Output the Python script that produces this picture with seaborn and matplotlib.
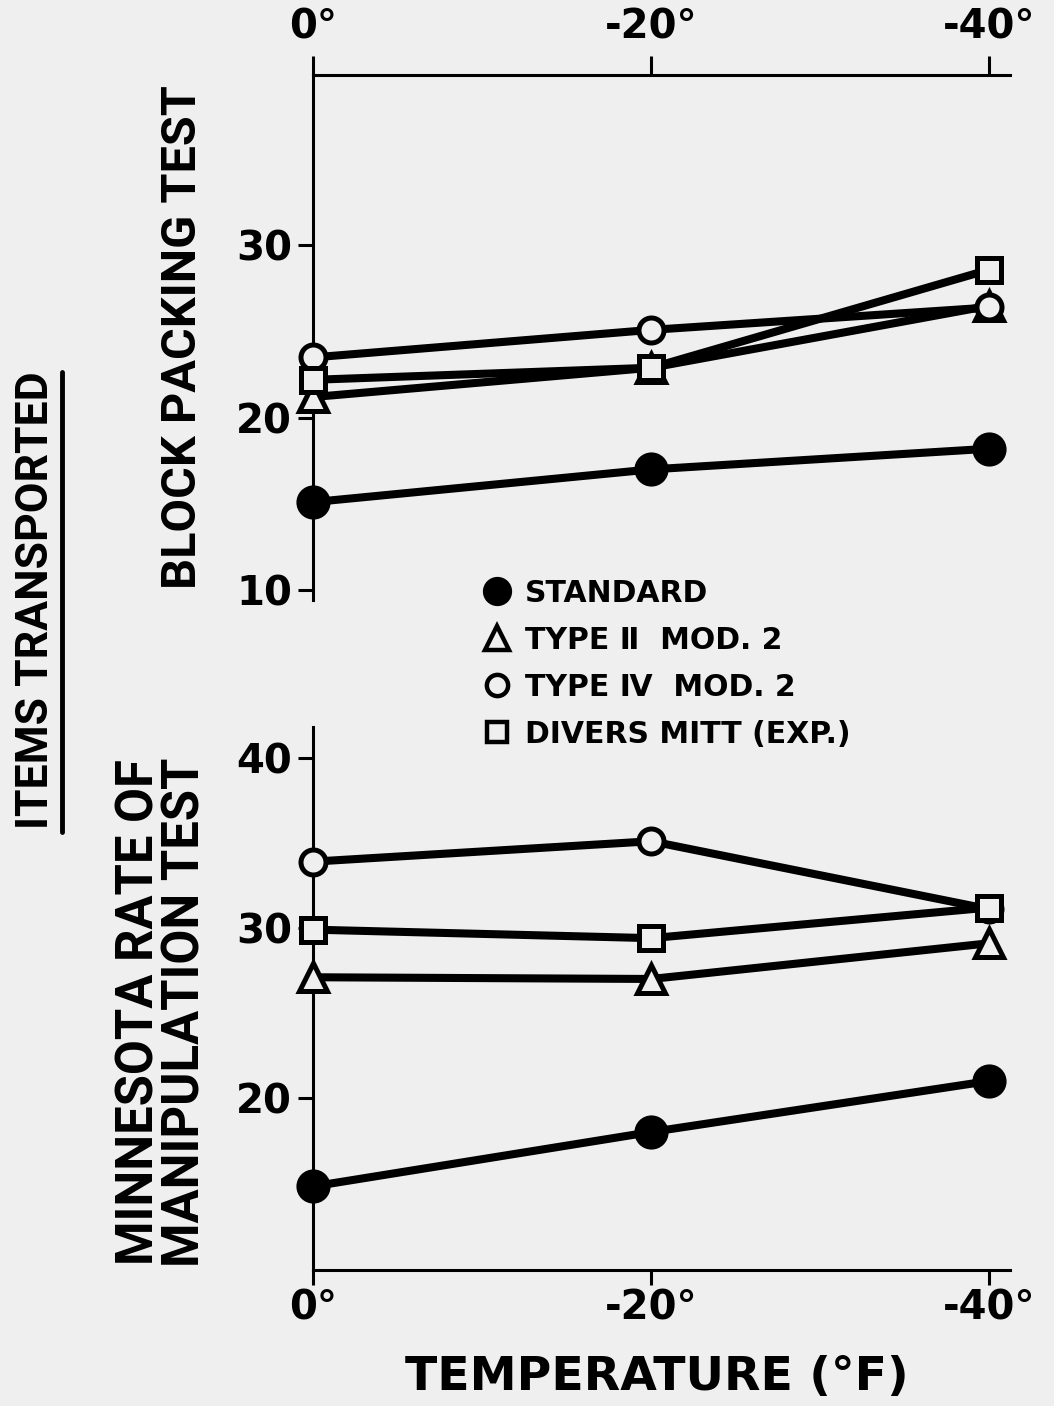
import numpy as np
import pandas as pd
import seaborn as sns
import matplotlib.pyplot as plt
from matplotlib.lines import Line2D

# data
temps = [0, -20, -40]
tick_labels = ["0°", "-20°", "-40°"]
series = ["STANDARD", "TYPE Ⅱ  MOD. 2", "TYPE Ⅳ  MOD. 2", "DIVERS MITT (EXP.)"]

# block packing test (items transported)
block_standard = [15.1, 17.0, 18.2]
block_type2 = [21.2, 22.9, 26.5]
block_type4 = [23.5, 25.1, 26.4]
block_divers = [22.2, 22.9, 28.6]

# minnesota rate of manipulation test
minn_standard = [14.8, 18.0, 21.0]
minn_type2 = [27.1, 27.0, 29.1]
minn_type4 = [33.9, 35.1, 31.1]
minn_divers = [29.9, 29.4, 31.2]

bg = "#efefef"
sns.set_theme(style="white")
plt.rcParams["font.family"] = ["DejaVu Sans"]
plt.rcParams["font.weight"] = "bold"
plt.rcParams["text.color"] = "black"
plt.rcParams["xtick.color"] = "black"
plt.rcParams["ytick.color"] = "black"

fig = plt.figure(figsize=(10.54, 14.06), dpi=100, facecolor=bg)
ax_top = fig.add_axes([0.297, 0.5733, 0.661, 0.3734], facecolor=bg)
ax_bot = fig.add_axes([0.297, 0.0967, 0.661, 0.386], facecolor=bg)

marker_styles = {
    "STANDARD": dict(marker="o", markersize=21, markerfacecolor="black"),
    "TYPE Ⅱ  MOD. 2": dict(marker="^", markersize=20, markerfacecolor=bg),
    "TYPE Ⅳ  MOD. 2": dict(marker="o", markersize=18, markerfacecolor=bg),
    "DIVERS MITT (EXP.)": dict(marker="s", markersize=17, markerfacecolor=bg),
}

block_vals = [block_standard, block_type2, block_type4, block_divers]
minn_vals = [minn_standard, minn_type2, minn_type4, minn_divers]

for ax, vals in [(ax_top, block_vals), (ax_bot, minn_vals)]:
    for name, v in zip(series, vals):
        df = pd.DataFrame({"temp": temps, "items": v})
        sns.lineplot(data=df, x="temp", y="items", ax=ax, color="black",
                     linewidth=5.8, markeredgecolor="black", markeredgewidth=3.6,
                     clip_on=False, zorder=3, **marker_styles[name])
    ax.set_xlim(0, -41.2)
    ax.set_xlabel("")
    ax.set_ylabel("")
    for s in ax.spines.values():
        s.set_linewidth(2.2)
        s.set_color("black")
    ax.set_xticks(temps)
    ax.set_xticklabels(tick_labels)
    ax.tick_params(axis="both", direction="out", length=11, width=2.2,
                   color="black", labelcolor="black", labelsize=29, pad=4,
                   left=True)

# top panel
ax_top.set_ylim(9.42, 39.9)
ax_top.set_yticks([10, 20, 30])
ax_top.spines["right"].set_visible(False)
ax_top.spines["bottom"].set_visible(False)
ax_top.xaxis.tick_top()
ax_top.tick_params(axis="x", pad=6, top=True, bottom=False, length=14)

# bottom panel
ax_bot.set_ylim(9.88, 41.8)
ax_bot.set_yticks([20, 30, 40])
ax_bot.spines["right"].set_visible(False)
ax_bot.spines["top"].set_visible(False)
ax_bot.tick_params(axis="x", pad=2, bottom=True)

lab_font = ["Roboto", "DejaVu Sans"]
fig.text(183 / 1054, 1 - 337 / 1406, "BLOCK PACKING TEST", rotation=90,
         ha="center", va="center", fontsize=35, fontweight="bold", family=lab_font)
fig.text(140 / 1054, 1 - 1012 / 1406, "MINNESOTA RATE OF", rotation=90,
         ha="center", va="center", fontsize=36.5, fontweight="bold", family=lab_font)
fig.text(186 / 1054, 1 - 1012 / 1406, "MANIPULATION TEST", rotation=90,
         ha="center", va="center", fontsize=36.5, fontweight="bold", family=lab_font)
fig.text(36 / 1054, 1 - 600 / 1406, "ITEMS TRANSPORTED", rotation=90,
         ha="center", va="center", fontsize=32, fontweight="bold", family=lab_font)
fig.add_artist(Line2D([62 / 1054, 62 / 1054], [1 - 372 / 1406, 1 - 832 / 1406],
                      color="black", linewidth=3.5))
fig.text(657 / 1054, 1 - 1378 / 1406, "TEMPERATURE (°F)", ha="center",
         va="center", fontsize=34, fontweight="bold")

handles = [Line2D([], [], color="black", linestyle="none",
                  markeredgecolor="black", markeredgewidth=3.2,
                  **{**marker_styles[n], "markersize": marker_styles[n]["markersize"] * 0.85})
           for n in series]
leg = fig.legend(handles, series, loc="upper left",
                 bbox_to_anchor=(458 / 1054, 1 - 552 / 1406), frameon=False,
                 handlelength=0.8, handletextpad=0.55, labelspacing=0.6,
                 prop=dict(size=21.5, weight="bold"))

fig.savefig("out.png", dpi=100, facecolor=bg)
